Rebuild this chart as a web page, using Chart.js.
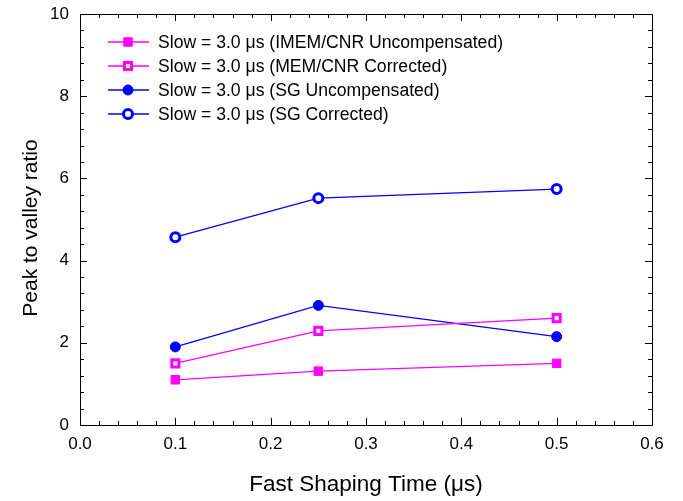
<!DOCTYPE html>
<html>
<head>
<meta charset="utf-8">
<script src="https://cdn.jsdelivr.net/npm/chart.js@4.4.1/dist/chart.umd.min.js"></script>
<style>
  html, body { margin: 0; padding: 0; background: #fff; }
</style>
</head>
<body>
<canvas id="canvas" width="683" height="501"></canvas>
<script>
// data
const fastTimes = [0.1, 0.25, 0.5];
const imemUncomp = [1.1, 1.31, 1.5];
const memCorrected = [1.5, 2.29, 2.6];
const sgUncomp = [1.9, 2.91, 2.15];
const sgCorrected = [4.57, 5.52, 5.74];
const seriesLabels = [
  'Slow = 3.0 \u03bcs (IMEM/CNR Uncompensated)',
  'Slow = 3.0 \u03bcs (MEM/CNR Corrected)',
  'Slow = 3.0 \u03bcs (SG Uncompensated)',
  'Slow = 3.0 \u03bcs (SG Corrected)'
];
const xTicks = [0, 0.1, 0.2, 0.3, 0.4, 0.5, 0.6];
const yTicks = [0, 2, 4, 6, 8, 10];
const yTitle = 'Peak to valley ratio';

const FONT = "'Liberation Sans', Arial, Helvetica, sans-serif";
const MAGENTA = '#ff00ff';
const BLUE = '#0000ff';

function pts(ys) {
  return ys.map((y, i) => ({ x: fastTimes[i], y: y }));
}

// frame, inward ticks, y title and legend drawn over the chart
const framePlugin = {
  id: 'frame',
  afterDraw(chart) {
    const ctx = chart.ctx;
    const a = chart.chartArea;
    const xs = chart.scales.x, ys = chart.scales.y;
    ctx.save();
    ctx.strokeStyle = '#000';
    ctx.lineWidth = 1;
    ctx.strokeRect(Math.round(a.left) + 0.5, Math.round(a.top) + 0.5,
      Math.round(a.right - a.left), Math.round(a.bottom - a.top));

    ctx.beginPath();
    // x ticks, minor every 0.02
    for (let i = 0; i <= 30; i++) {
      const px = Math.round(xs.getPixelForValue(i * 0.02)) + 0.5;
      const len = i % 5 === 0 ? 7 : 4;
      ctx.moveTo(px, a.bottom); ctx.lineTo(px, a.bottom - len);
      ctx.moveTo(px, a.top); ctx.lineTo(px, a.top + len);
    }
    // y ticks, minor every 0.4
    for (let i = 0; i <= 25; i++) {
      const py = Math.round(ys.getPixelForValue(i * 0.4)) + 0.5;
      const len = i % 5 === 0 ? 7 : 4;
      ctx.moveTo(a.left, py); ctx.lineTo(a.left + len, py);
      ctx.moveTo(a.right, py); ctx.lineTo(a.right - len, py);
    }
    ctx.stroke();

    // y axis title
    ctx.save();
    ctx.translate(36.5, 228);
    ctx.rotate(-Math.PI / 2);
    ctx.fillStyle = '#000';
    ctx.font = '21px ' + FONT;
    ctx.textAlign = 'center';
    ctx.textBaseline = 'alphabetic';
    ctx.fillText(yTitle, 0, 0);
    ctx.restore();

    // legend
    const lx = a.left + 28, ly = a.top + 28, rowH = 24;
    chart.data.datasets.forEach((ds, i) => {
      const y = ly + i * rowH;
      ctx.strokeStyle = ds.borderColor;
      ctx.lineWidth = ds.borderWidth;
      ctx.beginPath();
      ctx.moveTo(lx, y); ctx.lineTo(lx + 41, y);
      ctx.stroke();
      ctx.fillStyle = ds.pointBackgroundColor;
      ctx.strokeStyle = ds.pointBorderColor;
      ctx.lineWidth = ds.pointBorderWidth;
      ctx.beginPath();
      if (ds.pointStyle === 'rect') {
        const s = Math.SQRT1_2 * ds.pointRadius;
        ctx.rect(lx + 20 - s, y - s, 2 * s, 2 * s);
      } else {
        ctx.arc(lx + 20, y, ds.pointRadius, 0, Math.PI * 2);
      }
      ctx.fill(); ctx.stroke();
      ctx.fillStyle = '#000';
      ctx.font = '17.6px ' + FONT;
      ctx.textBaseline = 'middle';
      ctx.textAlign = 'left';
      ctx.fillText(ds.label, lx + 50, y + 1);
    });
    ctx.restore();
  }
};

const ctx = document.getElementById('canvas').getContext('2d');
const myChart = new Chart(ctx, {
  type: 'line',
  data: {
    datasets: [
      {
        label: seriesLabels[0], data: pts(imemUncomp),
        borderColor: MAGENTA, borderWidth: 1.3,
        pointStyle: 'rect', pointRadius: 6, pointBorderWidth: 1,
        pointBackgroundColor: MAGENTA, pointBorderColor: MAGENTA
      },
      {
        label: seriesLabels[1], data: pts(memCorrected),
        borderColor: MAGENTA, borderWidth: 1.3,
        pointStyle: 'rect', pointRadius: 5, pointBorderWidth: 3,
        pointBackgroundColor: '#fff', pointBorderColor: MAGENTA
      },
      {
        label: seriesLabels[2], data: pts(sgUncomp),
        borderColor: BLUE, borderWidth: 1.3,
        pointStyle: 'circle', pointRadius: 5, pointBorderWidth: 1,
        pointBackgroundColor: BLUE, pointBorderColor: BLUE
      },
      {
        label: seriesLabels[3], data: pts(sgCorrected),
        borderColor: BLUE, borderWidth: 1.3,
        pointStyle: 'circle', pointRadius: 4.5, pointBorderWidth: 3,
        pointBackgroundColor: '#fff', pointBorderColor: BLUE
      }
    ]
  },
  options: {
    responsive: false,
    animation: false,
    devicePixelRatio: 1,
    layout: { padding: { top: 14, right: 31, left: 0, bottom: 0 } },
    plugins: {
      legend: { display: false },
      tooltip: { enabled: false }
    },
    scales: {
      x: {
        type: 'linear', min: 0, max: 0.6,
        afterFit: (s) => { s.height = 76; s.paddingLeft = 0; s.paddingRight = 0; },
        afterBuildTicks: (s) => { s.ticks = xTicks.map(v => ({ value: v })); },
        grid: { display: false, drawTicks: false },
        border: { display: false },
        ticks: {
          color: '#000', padding: 9,
          font: { family: FONT, size: 17 },
          callback: (v) => v.toFixed(1)
        },
        title: {
          display: true, text: 'Fast Shaping Time (\u03bcs)', color: '#000',
          font: { family: FONT, size: 22.5 }, padding: { top: 0, bottom: 3 }
        }
      },
      y: {
        type: 'linear', min: 0, max: 10,
        afterFit: (s) => { s.width = 80; s.paddingTop = 0; s.paddingBottom = 0; },
        afterBuildTicks: (s) => { s.ticks = yTicks.map(v => ({ value: v })); },
        grid: { display: false, drawTicks: false },
        border: { display: false },
        ticks: {
          color: '#000', padding: 11,
          font: { family: FONT, size: 17 }
        }
      }
    }
  },
  plugins: [framePlugin]
});
</script>
</body>
</html>
